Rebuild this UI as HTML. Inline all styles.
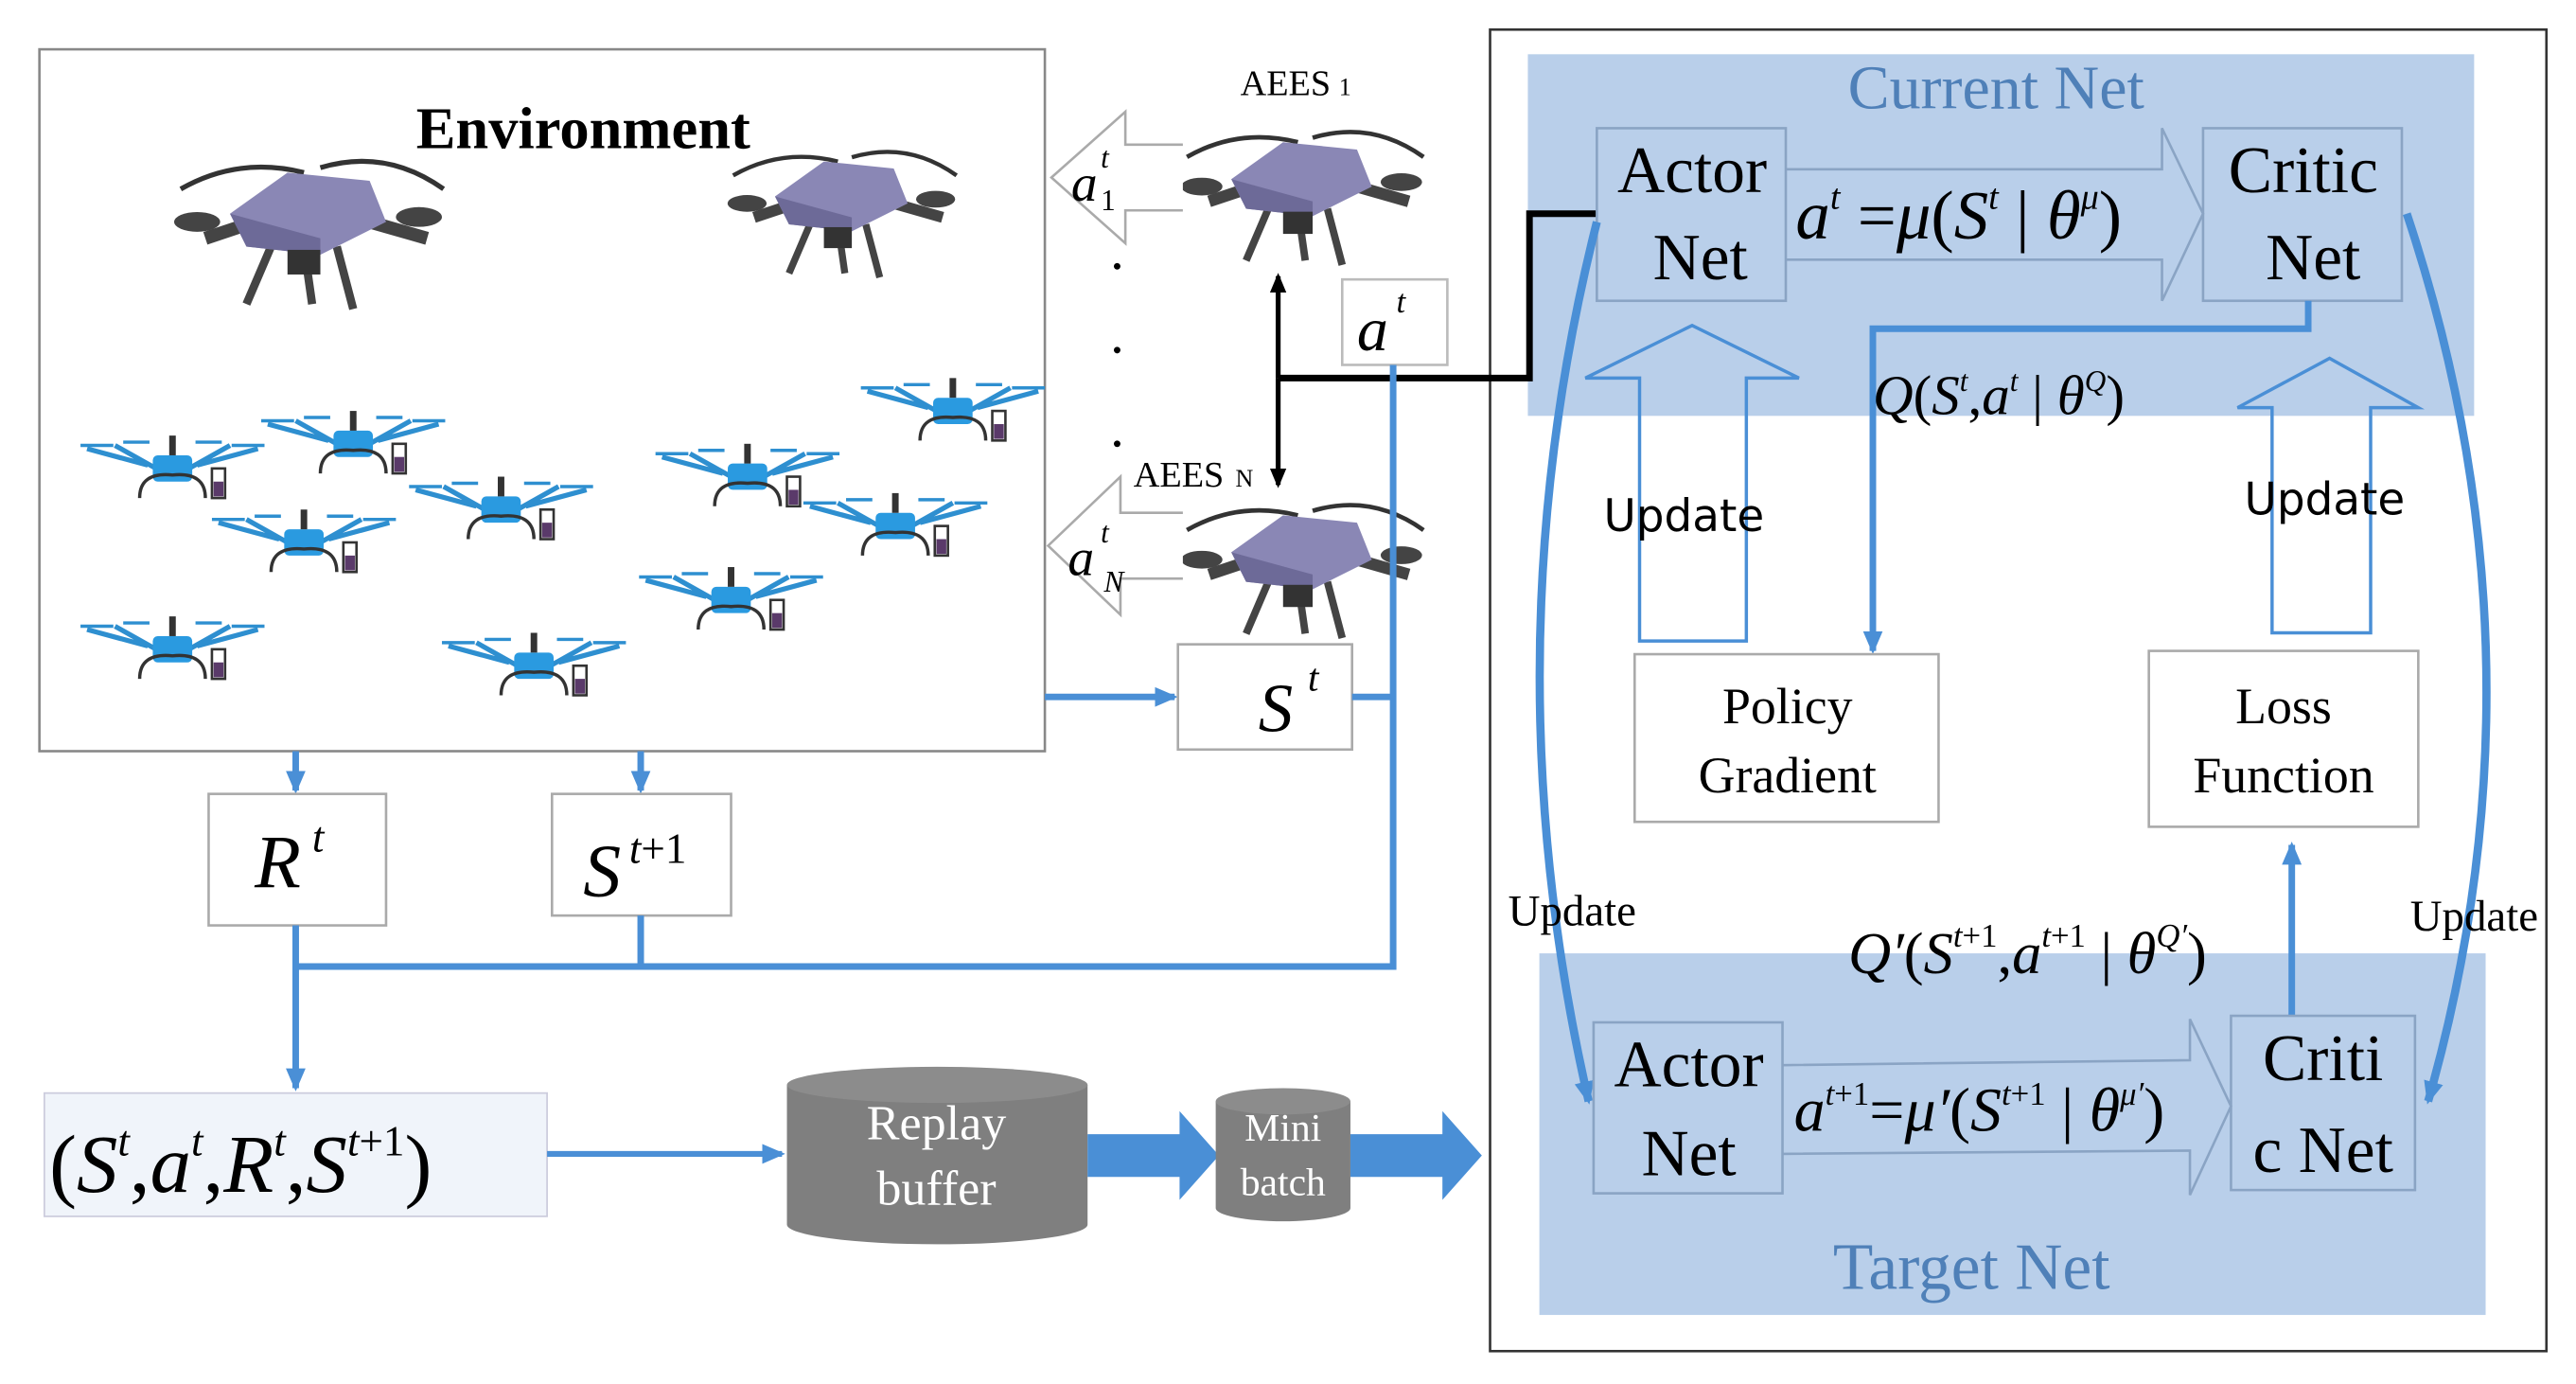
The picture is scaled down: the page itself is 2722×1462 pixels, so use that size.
<!DOCTYPE html>
<html><head><meta charset="utf-8"><style>
html,body{margin:0;padding:0;background:#fff}
svg{display:block}
text{font-family:"Liberation Serif",serif}
.m{font-style:italic}
.s{font-family:"DejaVu Sans","Liberation Sans",sans-serif}
</style></head><body>
<svg width="2722" height="1462" viewBox="0 0 1568 842" preserveAspectRatio="none" xmlns="http://www.w3.org/2000/svg">
<defs>
<marker id="ah" markerWidth="14" markerHeight="14" refX="12" refY="7" orient="auto" markerUnits="userSpaceOnUse"><path d="M0,1 L14,7 L0,13 z" fill="#4a8fd6"/></marker>
<marker id="bk" markerWidth="12" markerHeight="14" refX="10" refY="7" orient="auto" markerUnits="userSpaceOnUse"><path d="M0,2 L12,7 L0,12 z" fill="#000"/></marker>
<g id="pd">
  <path d="M-75,-25 Q-40,-45 0,-35" stroke="#333" stroke-width="3" fill="none"/>
  <path d="M10,-38 Q50,-50 85,-25" stroke="#333" stroke-width="3" fill="none"/>
  <path d="M-60,5 L-30,-5 M40,-5 L75,5" stroke="#444" stroke-width="8"/>
  <path d="M-20,10 L-35,45 M20,10 L30,48 M0,10 L5,45" stroke="#444" stroke-width="5"/>
  <path d="M-45,-10 L-10,-35 L40,-30 L50,-5 L10,15 L-35,10 z" fill="#8a87b5"/>
  <path d="M-45,-10 L-35,10 L10,15 L10,5 z" fill="#6d6a98"/>
  <rect x="-10" y="12" width="20" height="15" fill="#333"/>
  <ellipse cx="-65" cy="-5" rx="14" ry="6" fill="#444"/><ellipse cx="70" cy="-8" rx="14" ry="6" fill="#444"/>
</g>
<g id="bd">
  <path d="M-52,-12 L-15,-2 M52,-12 L15,-2 M-35,-14 L-10,0 M35,-14 L10,0" stroke="#2e8fd0" stroke-width="3"/>
  <path d="M-56,-14 L-36,-14 M36,-14 L56,-14 M-30,-16 L-14,-16 M14,-16 L30,-16" stroke="#2e8fd0" stroke-width="2"/>
  <rect x="-12" y="-8" width="24" height="16" rx="3" fill="#2a9ae0"/>
  <rect x="-2" y="-20" width="4" height="12" fill="#333"/>
  <path d="M-20,18 Q-20,2 0,4 Q20,2 20,18" stroke="#333" stroke-width="2" fill="none"/>
  <rect x="24" y="0" width="8" height="18" fill="#fff" stroke="#333" stroke-width="1.5"/>
  <rect x="25" y="8" width="6" height="9" fill="#5a3a6a"/>
</g>
</defs>

<!-- Environment -->
<rect x="24" y="30" width="612" height="427" fill="#fff" stroke="#888" stroke-width="1.5"/>
<text x="355" y="90" font-size="36" font-weight="bold" text-anchor="middle">Environment</text>
<use href="#pd" transform="translate(185,140)"/>
<use href="#pd" transform="translate(510,128) scale(0.85)"/>
<use href="#bd" transform="translate(105,285)"/>
<use href="#bd" transform="translate(215,270)"/>
<use href="#bd" transform="translate(185,330)"/>
<use href="#bd" transform="translate(305,310)"/>
<use href="#bd" transform="translate(455,290)"/>
<use href="#bd" transform="translate(580,250)"/>
<use href="#bd" transform="translate(545,320)"/>
<use href="#bd" transform="translate(445,365)"/>
<use href="#bd" transform="translate(105,395)"/>
<use href="#bd" transform="translate(325,405)"/>

<!-- right panel -->
<rect x="907" y="18" width="643" height="804" fill="#fff" stroke="#333" stroke-width="1.5"/>
<rect x="930" y="33" width="576" height="220" fill="#b9cfea"/>
<rect x="937" y="580" width="576" height="220" fill="#b9cfea"/>
<text x="1215" y="66" font-size="38" fill="#4f80b8" text-anchor="middle">Current Net</text>
<text x="1200" y="784" font-size="40" fill="#4f80b8" text-anchor="middle">Target Net</text>

<!-- AEES -->
<text x="755" y="58" font-size="22">AEES</text><text x="815" y="58" font-size="15">1</text>
<use href="#pd" transform="translate(790,118) scale(0.9)"/>
<text x="690" y="296" font-size="22">AEES</text><text x="752" y="296" font-size="15">N</text>
<use href="#pd" transform="translate(790,345) scale(0.9)"/>
<path d="M720,88 L685,88 L685,68 L640,108 L685,148 L685,128 L720,128" fill="#fff" stroke="#aaa" stroke-width="1.5"/>
<text x="652" y="122" font-size="32" class="m">a</text><text x="670" y="102" font-size="18" class="m">t</text><text x="670" y="128" font-size="18">1</text>
<path d="M720,312 L682,312 L682,290 L638,332 L682,374 L682,352 L720,352" fill="#fff" stroke="#aaa" stroke-width="1.5"/>
<text x="650" y="350" font-size="32" class="m">a</text><text x="670" y="330" font-size="18" class="m">t</text><text x="672" y="360" font-size="18" class="m">N</text>
<circle cx="680" cy="162" r="2" fill="#000"/><circle cx="680" cy="213" r="2" fill="#000"/><circle cx="680" cy="270" r="2" fill="#000"/>

<!-- black link -->
<path d="M778,230 L931,230 L931,130 L972,130" stroke="#000" stroke-width="4" fill="none"/>
<line x1="778" y1="230" x2="778" y2="168" stroke="#000" stroke-width="3" marker-end="url(#bk)"/>
<line x1="778" y1="230" x2="778" y2="295" stroke="#000" stroke-width="3" marker-end="url(#bk)"/>
<rect x="817" y="170" width="64" height="52" fill="#fff" stroke="#bbb" stroke-width="1.5"/>
<text x="826" y="213" font-size="38" class="m">a</text><text x="850" y="190" font-size="20" class="m">t</text>

<!-- S^t -->
<line x1="636" y1="424" x2="715" y2="424" stroke="#4a8fd6" stroke-width="4" marker-end="url(#ah)"/>
<rect x="717" y="392" width="106" height="64" fill="#fff" stroke="#aaa" stroke-width="1.5"/>
<text x="766" y="445" font-size="42" class="m">S</text><text x="796" y="420" font-size="24" class="m">t</text>
<path d="M823,424 L848,424 M848,222 L848,588 L180,588" stroke="#4a8fd6" stroke-width="4" fill="none"/>

<!-- R, S t+1 -->
<line x1="180" y1="457" x2="180" y2="481" stroke="#4a8fd6" stroke-width="4" marker-end="url(#ah)"/>
<line x1="390" y1="457" x2="390" y2="481" stroke="#4a8fd6" stroke-width="4" marker-end="url(#ah)"/>
<rect x="127" y="483" width="108" height="80" fill="#fff" stroke="#aaa" stroke-width="1.5"/>
<text x="155" y="540" font-size="46" class="m">R</text><text x="190" y="518" font-size="26" class="m">t</text>
<rect x="336" y="483" width="109" height="74" fill="#fff" stroke="#aaa" stroke-width="1.5"/>
<text x="355" y="545" font-size="46" class="m">S</text><text x="383" y="525" font-size="26"><tspan class="m">t</tspan>+1</text>
<path d="M180,563 L180,588 M390,557 L390,588" stroke="#4a8fd6" stroke-width="4"/>
<line x1="180" y1="588" x2="180" y2="662" stroke="#4a8fd6" stroke-width="4" marker-end="url(#ah)"/>

<!-- tuple -->
<rect x="27" y="665" width="306" height="75" fill="#f0f4fa" stroke="#ccd" stroke-width="1"/>
<text x="30" y="725" font-size="50">(<tspan class="m">S</tspan><tspan font-size="26" dy="-22" class="m">t</tspan><tspan dy="22">,</tspan><tspan class="m">a</tspan><tspan font-size="26" dy="-22" class="m">t</tspan><tspan dy="22">,</tspan><tspan class="m">R</tspan><tspan font-size="26" dy="-22" class="m">t</tspan><tspan dy="22">,</tspan><tspan class="m">S</tspan><tspan font-size="26" dy="-22"><tspan class="m">t</tspan>+1</tspan><tspan dy="22">)</tspan></text>
<line x1="333" y1="702" x2="476" y2="702" stroke="#4a8fd6" stroke-width="3.5" marker-end="url(#ah)"/>

<!-- replay buffer -->
<path d="M479,660 L479,745 A91.5,12 0 0 0 662,745 L662,660 z" fill="#7f7f7f"/>
<ellipse cx="570.5" cy="660" rx="91.5" ry="11" fill="#8c8c8c"/>
<text x="570" y="693" font-size="30" fill="#fff" text-anchor="middle">Replay</text>
<text x="570" y="733" font-size="30" fill="#fff" text-anchor="middle">buffer</text>
<path d="M662,690 L718,690 L718,676 L742,703 L718,730 L718,716 L662,716 z" fill="#4a8fd6"/>
<path d="M740,670 L740,735 A41,8 0 0 0 822,735 L822,670 z" fill="#7f7f7f"/>
<ellipse cx="781" cy="670" rx="41" ry="8" fill="#8c8c8c"/>
<text x="781" y="694" font-size="24" fill="#fff" text-anchor="middle">Mini</text>
<text x="781" y="727" font-size="24" fill="#fff" text-anchor="middle">batch</text>
<path d="M822,690 L878,690 L878,676 L902,703 L878,730 L878,716 L822,716 z" fill="#4a8fd6"/>

<rect x="972" y="78" width="115" height="105" fill="#b9cfea" stroke="#8aa4c4" stroke-width="1.5"/>
<text x="1030" y="117" font-size="40" text-anchor="middle">Actor</text>
<text x="1035" y="170" font-size="40" text-anchor="middle">Net</text>
<rect x="1341" y="78" width="121" height="105" fill="#b9cfea" stroke="#8aa4c4" stroke-width="1.5"/>
<text x="1402" y="117" font-size="40" text-anchor="middle">Critic</text>
<text x="1408" y="170" font-size="40" text-anchor="middle">Net</text>
<path d="M1087,103 L1316,103 L1316,78 L1341,130 L1316,183 L1316,158 L1087,158" fill="none" stroke="#8aa4c4" stroke-width="1.5"/>
<text x="1093" y="145" font-size="42"><tspan class="m">a</tspan><tspan font-size="22" dy="-18" class="m">t</tspan><tspan dy="18"> =</tspan><tspan class="m">μ</tspan>(<tspan class="m">S</tspan><tspan font-size="22" dy="-18" class="m">t</tspan><tspan dy="18"> | </tspan><tspan class="m">θ</tspan><tspan font-size="22" dy="-18" class="m">μ</tspan><tspan dy="18">)</tspan></text>

<path d="M1405,183 L1405,200 L1140,200 L1140,396" stroke="#4a8fd6" stroke-width="4" fill="none" marker-end="url(#ah)"/>
<text x="1140" y="252" font-size="34"><tspan class="m">Q</tspan>(<tspan class="m">S</tspan><tspan font-size="18" dy="-14" class="m">t</tspan><tspan dy="14">,</tspan><tspan class="m">a</tspan><tspan font-size="18" dy="-14" class="m">t</tspan><tspan dy="14"> | </tspan><tspan class="m">θ</tspan><tspan font-size="18" dy="-14" class="m">Q</tspan><tspan dy="14">)</tspan></text>

<path d="M998,390 L998,230 L965,230 L1030,198 L1095,230 L1063,230 L1063,390 z" fill="none" stroke="#4a8fd6" stroke-width="2"/>
<path d="M1383,385 L1383,248 L1362,248 L1418,218 L1472,248 L1443,248 L1443,385 z" fill="none" stroke="#4a8fd6" stroke-width="2"/>
<text x="1025" y="323" font-size="27" class="s" text-anchor="middle">Update</text>
<text x="1415" y="313" font-size="27" class="s" text-anchor="middle">Update</text>

<rect x="995" y="398" width="185" height="102" fill="#fff" stroke="#aaa" stroke-width="1.5"/>
<text x="1088" y="440" font-size="31" text-anchor="middle">Policy</text>
<text x="1088" y="482" font-size="31" text-anchor="middle">Gradient</text>
<rect x="1308" y="396" width="164" height="107" fill="#fff" stroke="#aaa" stroke-width="1.5"/>
<text x="1390" y="440" font-size="31" text-anchor="middle">Loss</text>
<text x="1390" y="482" font-size="31" text-anchor="middle">Function</text>

<path d="M972,135 Q905,400 967,670" stroke="#4a8fd6" stroke-width="5" fill="none" marker-end="url(#ah)"/>
<path d="M1465,130 Q1555,400 1478,670" stroke="#4a8fd6" stroke-width="5" fill="none" marker-end="url(#ah)"/>
<text x="957" y="563" font-size="27" text-anchor="middle">Update</text>
<text x="1506" y="566" font-size="27" text-anchor="middle">Update</text>

<line x1="1395" y1="618" x2="1395" y2="514" stroke="#4a8fd6" stroke-width="4" marker-end="url(#ah)"/>
<text x="1125" y="592" font-size="36"><tspan class="m">Q′</tspan>(<tspan class="m">S</tspan><tspan font-size="20" dy="-16"><tspan class="m">t</tspan>+1</tspan><tspan dy="16">,</tspan><tspan class="m">a</tspan><tspan font-size="20" dy="-16"><tspan class="m">t</tspan>+1</tspan><tspan dy="16"> | </tspan><tspan class="m">θ</tspan><tspan font-size="20" dy="-16" class="m">Q′</tspan><tspan dy="16">)</tspan></text>

<rect x="970" y="622" width="115" height="104" fill="#b9cfea" stroke="#8aa4c4" stroke-width="1.5"/>
<text x="1028" y="661" font-size="40" text-anchor="middle">Actor</text>
<text x="1028" y="715" font-size="40" text-anchor="middle">Net</text>
<rect x="1358" y="618" width="112" height="106" fill="#b9cfea" stroke="#8aa4c4" stroke-width="1.5"/>
<text x="1414" y="657" font-size="40" text-anchor="middle">Criti</text>
<text x="1414" y="713" font-size="40" text-anchor="middle">c Net</text>
<path d="M1085,648 L1333,645 L1333,620 L1358,673 L1333,727 L1333,700 L1085,702" fill="none" stroke="#8aa4c4" stroke-width="1.5"/>
<text x="1092" y="688" font-size="38"><tspan class="m">a</tspan><tspan font-size="20" dy="-16"><tspan class="m">t</tspan>+1</tspan><tspan dy="16">=</tspan><tspan class="m">μ′</tspan>(<tspan class="m">S</tspan><tspan font-size="20" dy="-16"><tspan class="m">t</tspan>+1</tspan><tspan dy="16"> | </tspan><tspan class="m">θ</tspan><tspan font-size="20" dy="-16" class="m">μ′</tspan><tspan dy="16">)</tspan></text>
</svg>
</body></html>
